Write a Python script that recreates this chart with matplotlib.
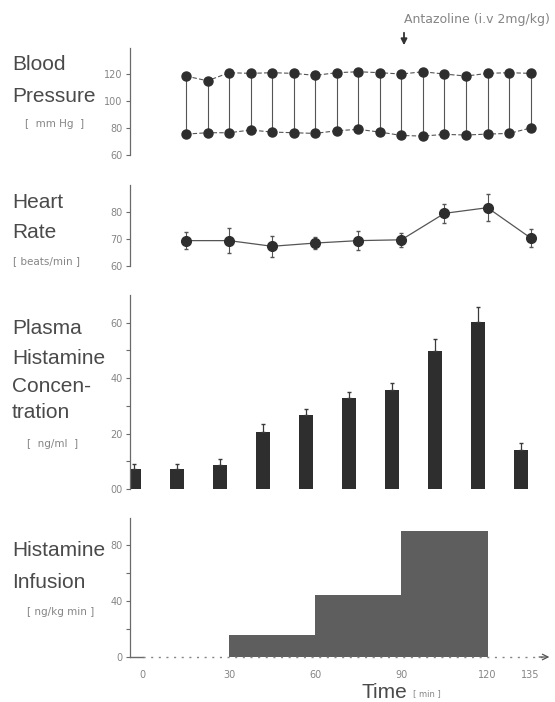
import numpy as np
import matplotlib.pyplot as plt

# ---- data ----
bp_time = [15, 22.5, 30, 37.5, 45, 52.5, 60, 67.5, 75, 82.5, 90, 97.5, 105, 112.5, 120, 127.5, 135]
bp_sys = [118.5, 115, 121, 120.5, 121, 120.5, 119, 121, 121.7, 121, 120, 121.7, 120, 118.5, 120.5, 121, 120.5]
bp_dia = [75.5, 76.5, 76.5, 78.5, 77, 76.5, 76, 78, 79, 77, 74.5, 74, 75.3, 74.8, 75.5, 76, 80]

hr_time = [15, 30, 45, 60, 75, 90, 105, 120, 135]
hr_mean = [69.4, 69.4, 67.3, 68.5, 69.4, 69.7, 79.5, 81.6, 70.4]
hr_err = [3.2, 4.6, 3.9, 2.2, 3.5, 2.6, 3.5, 5.0, 3.4]

hist_time = [0, 15, 30, 45, 60, 75, 90, 105, 120, 135]
hist_conc = [7.3, 7.3, 8.5, 20.4, 26.8, 32.8, 35.8, 49.9, 60.2, 14.2]
hist_err = [1.7, 1.7, 2.5, 2.9, 1.9, 2.3, 2.5, 4.4, 5.5, 2.4]

inf_start = [30, 60, 90]
inf_dose = [16, 44, 90]

time_ticks = [0, 30, 60, 90, 120, 135]

W, H = 555, 702
fig = plt.figure(figsize=(W / 100, H / 100), dpi=100)
plt.rcParams['font.family'] = ['Liberation Sans', 'DejaVu Sans']

TXT = '#4a4a4a'
LIGHT = '#858585'
AXC = '#6a6a6a'
DARK = '#2e2e2e'
SMALL = 'DejaVu Sans'

x_left, x_right = 130, 555
xlim = (-4.5, 143.5)


def add_panel(top, bottom, ylim):
    ax = fig.add_axes([x_left / W, 1 - bottom / H, (x_right - x_left) / W, (bottom - top) / H])
    ax.set_xlim(*xlim)
    ax.set_ylim(*ylim)
    for s in ['top', 'right', 'bottom']:
        ax.spines[s].set_visible(False)
    ax.spines['left'].set_color(AXC)
    ax.spines['left'].set_linewidth(0.9)
    ax.set_xticks([])
    ax.tick_params(axis='y', which='both', direction='out', length=3, width=0.8,
                   color=AXC, labelsize=7, labelcolor=LIGHT, pad=2.5)
    ax.patch.set_alpha(0)
    return ax


def label(lines, ys, unit, unit_x, unit_y):
    for t, y in zip(lines, ys):
        fig.text(12 / W, 1 - y / H, t, fontsize=15, color=TXT, va='center', ha='left')
    fig.text(unit_x / W, 1 - unit_y / H, unit, fontsize=7.5, color=LIGHT, va='center',
             ha='left', family=SMALL)


def small_ticks(ax):
    for t in ax.get_yticklabels() + ax.get_xticklabels():
        t.set_family(SMALL)


# ---- blood pressure ----
ax1 = add_panel(48, 155, (60, 139.3))
ax1.set_yticks([60, 80, 100, 120])
ax1.vlines(bp_time, bp_dia, bp_sys, color='#555555', lw=0.8)
ax1.plot(bp_time, bp_sys, color='#555555', lw=0.8, ls=(0, (4, 2)), marker='o', ms=6.5,
         mfc=DARK, mec=DARK)
ax1.plot(bp_time, bp_dia, color='#555555', lw=0.8, ls=(0, (4, 2)), marker='o', ms=6.5,
         mfc=DARK, mec=DARK)
small_ticks(ax1)
label(['Blood', 'Pressure'], [65, 96], '[  mm Hg  ]', 25, 124)

# ---- heart rate ----
ax2 = add_panel(185, 266, (60, 90))
ax2.set_yticks([60, 70, 80])
ax2.errorbar(hr_time, hr_mean, yerr=hr_err, color='#555555', lw=0.9, elinewidth=0.8,
             capsize=1.5, marker='o', ms=7, mfc=DARK, mec=DARK)
small_ticks(ax2)
label(['Heart', 'Rate'], [203, 232], '[ beats/min ]', 13, 261)

# ---- plasma histamine ----
ax3 = add_panel(295, 489, (0, 70))
ax3.set_yticks([0, 20, 40, 60])
ax3.set_yticklabels(['00', '20', '40', '60'])
ax3.set_yticks([10, 30, 50], minor=True)
bar_pos = np.array(hist_time) - 3.2
ax3.bar(bar_pos, hist_conc, width=4.9, color=DARK, lw=0)
ax3.errorbar(bar_pos, hist_conc, yerr=[np.zeros(len(hist_err)), hist_err], fmt='none',
             ecolor='#3a3a3a', elinewidth=0.9, capsize=1.5)
small_ticks(ax3)
label(['Plasma', 'Histamine', 'Concen-', 'tration'], [328, 358, 387, 413], '[  ng/ml  ]', 27, 444)

# ---- histamine infusion ----
ax4 = add_panel(518, 657, (0, 99.3))
ax4.set_yticks([0, 40, 80])
ax4.set_yticks([20, 60], minor=True)
ax4.bar(inf_start, inf_dose, width=30, align='edge', color='#5e5e5e', lw=0)
ax4.plot([xlim[0], 0], [0, 0], color=AXC, lw=1.0, clip_on=False)
ax4.plot([0, 140], [0, 0], color=LIGHT, lw=1.0, ls=(0, (1.5, 4)), clip_on=False)
ax4.annotate('', xy=(142.5, 0), xytext=(137, 0),
             arrowprops=dict(arrowstyle='->', color='#555555', lw=0.9), annotation_clip=False)
ax4.set_xticks(time_ticks)
ax4.set_xticklabels([str(t) for t in time_ticks])
ax4.tick_params(axis='x', length=0, labelsize=7, labelcolor=LIGHT, pad=9)
small_ticks(ax4)
label(['Histamine', 'Infusion'], [550, 582], '[ ng/kg min ]', 27, 612)

fig.text(362 / W, 1 - 693 / H, 'Time', fontsize=15, color=TXT, va='center', ha='left')
fig.text(413 / W, 1 - 694 / H, '[ min ]', fontsize=6, color=LIGHT, va='center', ha='left',
         family=SMALL)

# ---- antazoline arrow ----
fig.text(404 / W, 1 - 19 / H, 'Antazoline (i.v 2mg/kg)', fontsize=9, color=LIGHT,
         va='center', ha='left', family=SMALL)
fig.add_artist(plt.Annotation('', xy=(404 / W, 1 - 48 / H), xytext=(404 / W, 1 - 30 / H),
                              xycoords='figure fraction', textcoords='figure fraction',
                              arrowprops=dict(arrowstyle='-|>', color='#333333', lw=1.3,
                                              mutation_scale=9)))

fig.savefig('out.png', dpi=100)
